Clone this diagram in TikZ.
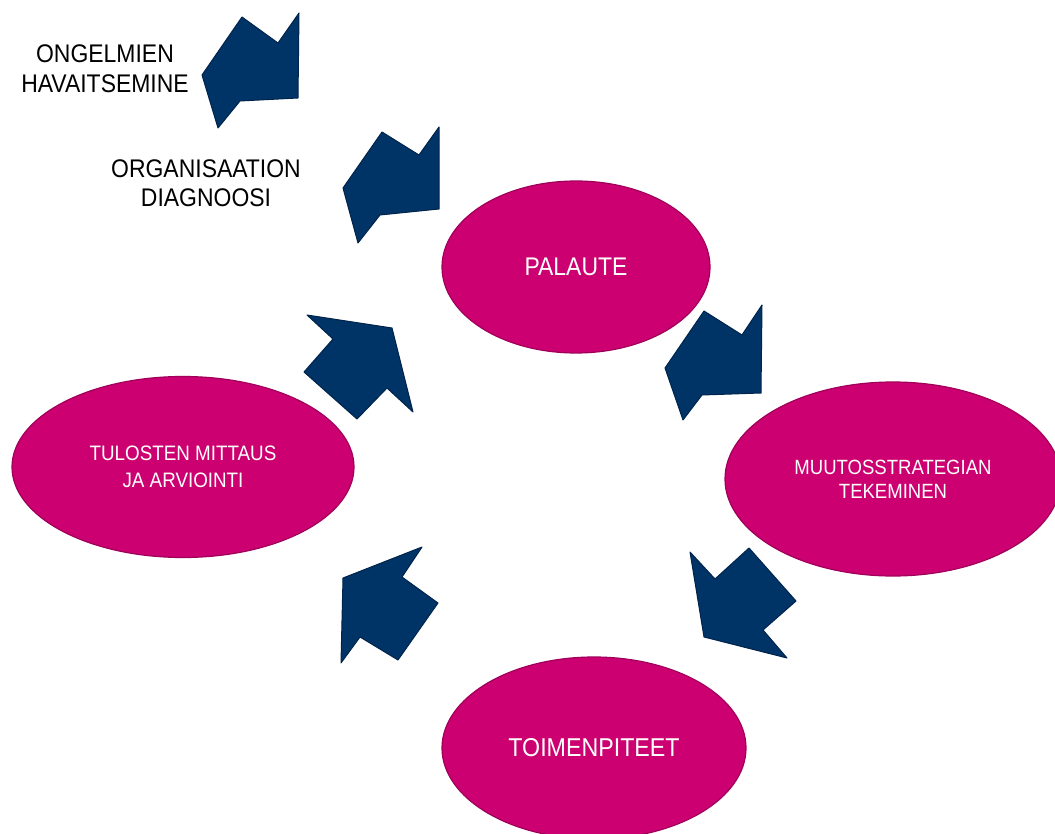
\documentclass[tikz,border=0pt]{standalone}
\usepackage{fontspec}
\setmainfont{Liberation Sans}[FakeStretch=0.9]
\usepackage{tikz}
\usetikzlibrary{shapes.geometric}
\definecolor{magenta}{RGB}{204,0,112}
\definecolor{magentaline}{RGB}{160,0,90}
\definecolor{navy}{RGB}{0,51,102}
\definecolor{navyline}{RGB}{0,36,75}

\begin{document}
\begin{tikzpicture}[x=1pt,y=-1pt,
    blob/.style={ellipse,fill=magenta,draw=magentaline,line width=1.2pt,
      inner sep=0pt,text=white,align=center},
    blockarrow/.style={fill=navy,draw=navyline,line width=1pt,line join=round},
    caption/.style={align=center,text=black,font=\fontsize{25.5}{29.5}\selectfont}]
        \useasboundingbox (0,0) rectangle (1055,834);
        \node[blob,minimum width=268,minimum height=172,font=\fontsize{25.5}{30}\selectfont] (P) at (576,267) {PALAUTE};%palaute
        \node[blob,minimum width=336,minimum height=194,font=\fontsize{20.6}{24}\selectfont] (M) at (893,479) {MUUTOSSTRATEGIAN\\TEKEMINEN};%strategia
        \node[blob,minimum width=304,minimum height=182,font=\fontsize{25.8}{30}\selectfont] (T) at (594,748) {TOIMENPITEET};%toimenpiteet
        \node[blob,minimum width=342,minimum height=181,font=\fontsize{20.9}{26.5}\selectfont] (A) at (183,467) {TULOSTEN MITTAUS\\JA ARVIOINTI};%arviointi
        \node[caption] (O) at (105,68.5) {ONGELMIEN\\HAVAITSEMINE};%havaitseminen
        \node[caption] (D) at (206,183) {ORGANISAATION\\DIAGNOOSI};%diagnoosi
        \draw[blockarrow] (242,17)--(278,43)--(299,13)--(298,98)--(240,101)--(218,128)--(202,75)--cycle;
        \draw[blockarrow] (382,132)--(419,155)--(439,127)--(439,209)--(380,215)--(358,243)--(343,188)--cycle;
        \draw[blockarrow] (704,311)--(742,335)--(762,305)--(761,393)--(702,395)--(683,420)--(665,368)--cycle;
        \draw[blockarrow] (690,552)--(715,579)--(749,548)--(796,601)--(763,630)--(787,658)--(704,637)--cycle;
        \draw[blockarrow] (422,547)--(402,577)--(438,603)--(398,660)--(360,637)--(341,663)--(343,578)--cycle;
        \draw[blockarrow] (307,315)--(392,328)--(413,412)--(387,388)--(357,419)--(304,372)--(333,339)--cycle;
\end{tikzpicture}
\end{document}
